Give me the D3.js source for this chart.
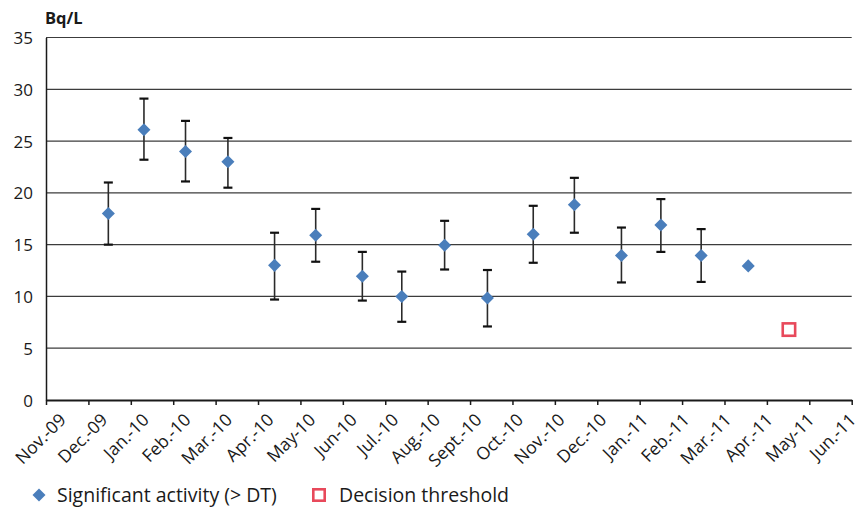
<!DOCTYPE html>
<html>
<head>
<meta charset="utf-8">
<script src="https://cdn.jsdelivr.net/npm/d3@7"></script>
<style>
  html, body { margin: 0; padding: 0; background: #fff; }
  svg { display: block; font-family: "Open Sans", "Noto Sans", sans-serif; }
</style>
</head>
<body>
<svg id="chart" width="867" height="511"></svg>
<script>
// ---- data ----
const monthLabels = ["Nov.-09","Dec.-09","Jan.-10","Feb.-10","Mar.-10","Apr.-10","May-10","Jun-10","Jul.-10","Aug.-10","Sept.-10","Oct.-10","Nov.-10","Dec.-10","Jan.-11","Feb.-11","Mar.-11","Apr.-11","May-11","Jun.-11"];
// sample position in months since Nov.-09
const samplePos = [1.47, 2.31, 3.29, 4.29, 5.39, 6.36, 7.46, 8.39, 9.40, 10.41, 11.49, 12.46, 13.57, 14.50, 15.45, 16.56];
const activity  = [18.0, 26.1, 24.0, 23.0, 13.0, 15.9, 11.95, 10.0, 14.95, 9.85, 16.0, 18.85, 13.95, 16.9, 13.95, 12.95];
const errLow    = [15.0, 23.2, 21.1, 20.5, 9.7, 13.35, 9.6, 7.55, 12.6, 7.1, 13.25, 16.15, 11.35, 14.3, 11.4, null];
const errHigh   = [21.0, 29.1, 26.95, 25.3, 16.15, 18.45, 14.3, 12.4, 17.3, 12.55, 18.75, 21.45, 16.65, 19.4, 16.5, null];
const thresholdPos = [17.52];
const thresholdVal = [6.8];
const yTicks = [0, 5, 10, 15, 20, 25, 30, 35];
const yUnit = "Bq/L";
const legendLabels = ["Significant activity (> DT)", "Decision threshold"];

// ---- styles ----
const blue = "#4a7ebb";
const red = "#e8495b";
const ink = "#1a1a1a";

const svg = d3.select("#chart");
const x = d3.scaleLinear().domain([0, monthLabels.length - 1]).range([46, 851.7]);
const y = d3.scaleLinear().domain([0, 35]).range([400, 37.5]);
const labelX = d3.scalePoint().domain(monthLabels).range([67, 857]);

// gridlines
svg.append("g")
  .selectAll("line")
  .data(yTicks.filter(d => d > 0))
  .join("line")
  .attr("x1", x(0)).attr("x2", x(monthLabels.length - 1))
  .attr("y1", d => y(d)).attr("y2", d => y(d))
  .attr("stroke", "#3c3c3c").attr("stroke-width", 1.2);

// y axis
const yAxis = svg.append("g")
  .attr("transform", `translate(${x(0)},0)`)
  .call(d3.axisLeft(y).tickValues(yTicks).tickSize(0).tickPadding(13).tickFormat(d3.format("d")));
yAxis.select(".domain").attr("stroke", ink).attr("stroke-width", 1.5);
yAxis.selectAll("text").attr("font-size", 17).attr("fill", ink)
  .attr("font-family", "'Open Sans', sans-serif").attr("dy", "0.36em");

// unit label
svg.append("text").attr("x", 45).attr("y", 24)
  .attr("font-size", 16.5).attr("font-weight", "bold").attr("fill", ink)
  .text(yUnit);

// x axis
const xAxis = svg.append("g")
  .attr("transform", `translate(0,${y(0)})`)
  .call(d3.axisBottom(x).tickValues(d3.range(monthLabels.length)).tickSize(5).tickSizeOuter(0).tickFormat(""));
xAxis.select(".domain").attr("stroke", ink).attr("stroke-width", 2);
xAxis.selectAll(".tick line").attr("stroke", ink).attr("stroke-width", 1.5);

svg.append("g")
  .selectAll("text")
  .data(monthLabels)
  .join("text")
  .attr("transform", d => `translate(${labelX(d)},${y(0) + 21}) rotate(-45)`)
  .attr("text-anchor", "end")
  .attr("font-size", 17.5)
  .attr("fill", ink)
  .text(d => d);

// error bars
const pts = samplePos.map((p, i) => ({p, v: activity[i], lo: errLow[i], hi: errHigh[i]}));
const eb = svg.append("g");
const withErr = pts.filter(d => d.lo !== null);
eb.selectAll("line.v").data(withErr).join("line").attr("class", "v")
  .attr("x1", d => x(d.p)).attr("x2", d => x(d.p))
  .attr("y1", d => y(d.lo)).attr("y2", d => y(d.hi))
  .attr("stroke", "#2a2a2a").attr("stroke-width", 1.6);
["lo", "hi"].forEach(k => {
  eb.selectAll("line.c" + k).data(withErr).join("line").attr("class", "c" + k)
    .attr("x1", d => x(d.p) - 4.5).attr("x2", d => x(d.p) + 4.5)
    .attr("y1", d => y(d[k])).attr("y2", d => y(d[k]))
    .attr("stroke", "#111").attr("stroke-width", 2.2);
});

// diamonds
const diamond = d3.symbol().type(d3.symbolSquare).size(85);
svg.append("g").selectAll("path").data(pts).join("path")
  .attr("d", diamond)
  .attr("transform", d => `translate(${x(d.p)},${y(d.v)}) rotate(45)`)
  .attr("fill", blue);

// decision threshold squares
svg.append("g").selectAll("rect").data(thresholdPos.map((p, i) => ({p, v: thresholdVal[i]}))).join("rect")
  .attr("x", d => x(d.p) - 6.2).attr("y", d => y(d.v) - 6.2)
  .attr("width", 12.4).attr("height", 12.4)
  .attr("fill", "#fff").attr("stroke", red).attr("stroke-width", 2.6);

// legend
const lg = svg.append("g");
lg.append("path").attr("d", diamond).attr("transform", "translate(39,495) rotate(45)").attr("fill", blue);
lg.append("text").attr("x", 57).attr("y", 502).attr("font-size", 19.5).attr("fill", ink).text(legendLabels[0]);
lg.append("rect").attr("x", 313.3).attr("y", 489.3).attr("width", 11.4).attr("height", 11.4)
  .attr("fill", "#fff").attr("stroke", red).attr("stroke-width", 2.6);
lg.append("text").attr("x", 339).attr("y", 502).attr("font-size", 19.5).attr("fill", ink).text(legendLabels[1]);
</script>
</body>
</html>
